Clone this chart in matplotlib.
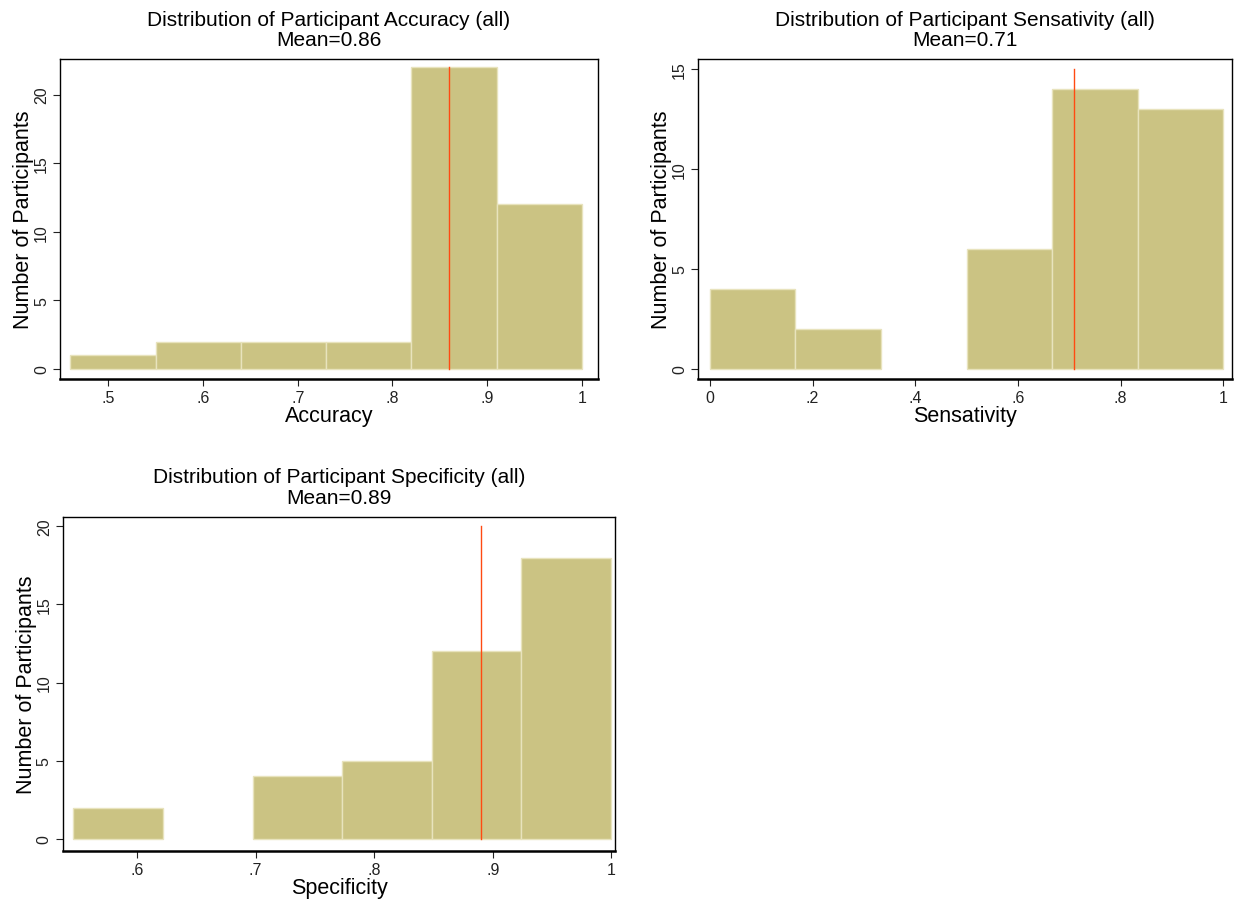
import numpy as np
import matplotlib
matplotlib.use('Agg')
import matplotlib.pyplot as plt

plt.rcParams['font.family'] = ['Liberation Sans', 'DejaVu Sans']

# accuracy histogram
acc_edges = [0.46, 0.55, 0.64, 0.73, 0.82, 0.91, 1.0]
acc_counts = [1, 2, 2, 2, 22, 12]
acc_mean = 0.86
acc_ticks = [0.5, 0.6, 0.7, 0.8, 0.9, 1.0]
acc_ticklabels = ['.5', '.6', '.7', '.8', '.9', '1']
acc_yticks = [0, 5, 10, 15, 20]

# sensitivity histogram
sen_edges = [0, 1/6, 2/6, 3/6, 4/6, 5/6, 1.0]
sen_counts = [4, 2, 0, 6, 14, 13]
sen_mean = 0.71
sen_ticks = [0, 0.2, 0.4, 0.6, 0.8, 1.0]
sen_ticklabels = ['0', '.2', '.4', '.6', '.8', '1']
sen_yticks = [0, 5, 10, 15]

# specificity histogram
spe_edges = [0.546, 0.622, 0.698, 0.773, 0.849, 0.924, 1.0]
spe_counts = [2, 0, 4, 5, 12, 18]
spe_mean = 0.89
spe_ticks = [0.6, 0.7, 0.8, 0.9, 1.0]
spe_ticklabels = ['.6', '.7', '.8', '.9', '1']
spe_yticks = [0, 5, 10, 15, 20]

BAR = '#cbc383'
EDGE = '#e8e3bd'
MEANC = '#ff4a12'


def drawHist(ax, edges, counts, mean, line_top, xticks, xticklabels, yticks,
             name, xlim, ylim):
    edges = np.array(edges)
    counts = np.array(counts)
    widths = np.diff(edges)
    keep = counts > 0  # empty bins draw nothing
    ax.bar(edges[:-1][keep], counts[keep], width=widths[keep], align='edge',
           color=BAR, edgecolor=EDGE, linewidth=1.0)
    ax.plot([mean, mean], [0, line_top], color=MEANC, linewidth=1.0)
    ax.set_xlim(xlim)
    ax.set_ylim(ylim)
    ax.set_xticks(xticks)
    ax.set_xticklabels(xticklabels)
    ax.set_yticks(yticks)
    ax.set_yticklabels([str(t) for t in yticks], rotation=90, va='center')
    ax.tick_params(axis='both', labelsize=11.5, length=5, width=0.8,
                   colors='#222222', pad=3)
    for s in ['top', 'right', 'left']:
        ax.spines[s].set_linewidth(1.0)
    ax.spines['bottom'].set_linewidth(1.8)
    ax.set_xlabel(name, fontsize=15.5, labelpad=0)
    ax.set_ylabel('Number of Participants', fontsize=15.5, labelpad=0)
    ax.set_title('Distribution of Participant %s (all)\nMean=%.2f' % (name, mean),
                 fontsize=15, linespacing=1.1, pad=10)


fig = plt.figure(figsize=(12.35, 9.03), dpi=100)
ax1 = fig.add_axes([0.0486, 0.5792, 0.4356, 0.3544])
ax2 = fig.add_axes([0.5652, 0.5792, 0.4324, 0.3544])
ax3 = fig.add_axes([0.0510, 0.0565, 0.4470, 0.3700])

drawHist(ax1, acc_edges, acc_counts, acc_mean, 22, acc_ticks, acc_ticklabels,
         acc_yticks, 'Accuracy', (0.449, 1.017), (-0.73, 22.6))
drawHist(ax2, sen_edges, sen_counts, sen_mean, 15, sen_ticks, sen_ticklabels,
         sen_yticks, 'Sensativity', (-0.023, 1.017), (-0.5, 15.5))
drawHist(ax3, spe_edges, spe_counts, spe_mean, 20, spe_ticks, spe_ticklabels,
         spe_yticks, 'Specificity', (0.5376, 1.003), (-0.77, 20.6))

fig.savefig('out.png', dpi=100)
